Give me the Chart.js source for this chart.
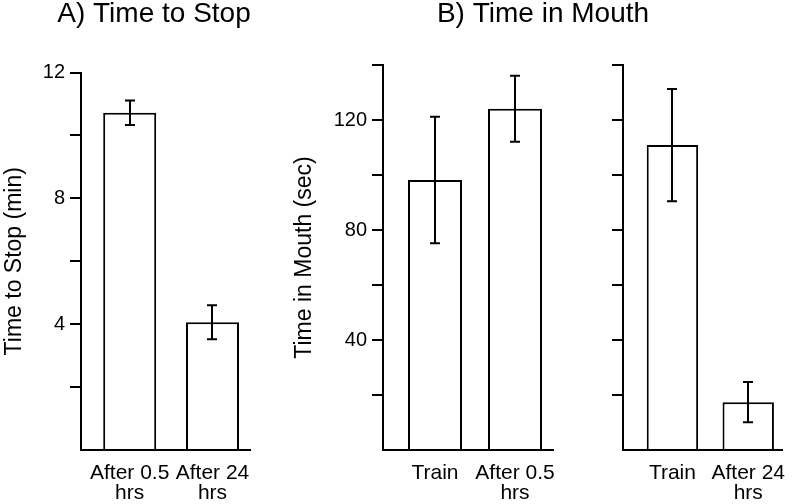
<!DOCTYPE html>
<html><head><meta charset="utf-8">
<script src="https://cdn.jsdelivr.net/npm/chart.js@4.4.1/dist/chart.umd.min.js"></script>
<style>
html,body{margin:0;padding:0;background:#fff;width:800px;height:504px;overflow:hidden;}
canvas{position:absolute;top:0;}
</style></head><body>
<canvas id="cA" width="308" height="504" style="left:0px"></canvas>
<canvas id="cB1" width="506" height="504" style="left:290px"></canvas>
<canvas id="cB2" width="240" height="504" style="left:560px"></canvas>
<script>
// ---- Panel A: Time to Stop ----
const categoriesA = [['After 0.5', 'hrs'], ['After 24', 'hrs']];
const timeToStop = [10.72, 4.06];
const timeToStopErr = [0.39, 0.54];
const yTickLabelsA = [4, 8, 12];

// ---- Panel B (left): Time in Mouth, Train vs After 0.5 hrs ----
const categoriesB1 = ['Train', ['After 0.5', 'hrs']];
const mouthB1 = [98.2, 124.1];
const mouthB1Err = [23, 12];
const yTickLabelsB1 = [40, 80, 120];

// ---- Panel B (right): Time in Mouth, Train vs After 24 hrs ----
const categoriesB2 = ['Train', ['After 24', 'hrs']];
const mouthB2 = [110.9, 17.4];
const mouthB2Err = [20.4, 7.3];
const yTickLabelsB2 = [];

Chart.defaults.font.family = "'Liberation Sans', Arial, sans-serif";
Chart.defaults.color = '#000';

const errorBars = {
  id: 'errorBars',
  afterDatasetsDraw(chart, args, opts) {
    const errs = opts.errors;
    if (!errs) return;
    const meta = chart.getDatasetMeta(0);
    const ys = chart.scales.y;
    const ctx = chart.ctx;
    ctx.save();
    ctx.strokeStyle = '#000';
    ctx.lineWidth = 2;
    meta.data.forEach((bar, i) => {
      const v = chart.data.datasets[0].data[i].y;
      const top = ys.getPixelForValue(v + errs[i]);
      const bot = ys.getPixelForValue(v - errs[i]);
      const x = Math.round(bar.x), hw = 5;
      ctx.beginPath();
      ctx.moveTo(x, top); ctx.lineTo(x, bot);
      ctx.moveTo(x - hw, top); ctx.lineTo(x + hw, top);
      ctx.moveTo(x - hw, bot); ctx.lineTo(x + hw, bot);
      ctx.stroke();
    });
    ctx.restore();
  }
};

function makeChart(id, c) {
  return new Chart(document.getElementById(id), {
    type: 'bar',
    data: {
      datasets: [{
        data: c.vals.map((v, i) => ({ x: i, y: v })),
        backgroundColor: '#fff',
        borderColor: '#000',
        borderWidth: 2,
        borderSkipped: 'start',
        barPercentage: c.barPct,
        categoryPercentage: 1
      }]
    },
    options: {
      responsive: false,
      animation: false,
      devicePixelRatio: 1,
      layout: { padding: { left: 0, right: 0, top: c.padTop, bottom: 0 } },
      plugins: {
        legend: { display: false },
        tooltip: { enabled: false },
        title: c.title ? {
          display: true, text: c.title, color: '#000',
          font: { size: 28, weight: 'normal', lineHeight: 1 },
          padding: { top: 0, bottom: c.titlePadBottom }
        } : { display: false },
        errorBars: { errors: c.errs }
      },
      scales: {
        x: {
          type: 'linear', min: c.xMin, max: c.xMax, offset: false, bounds: 'data',
          grid: { display: false, drawTicks: false },
          border: { display: true, color: '#000', width: 2 },
          afterBuildTicks: s => { s.ticks = c.cats.map((_, i) => ({ value: i })); },
          afterFit: s => { s.height = 54; },
          ticks: {
            autoSkip: false, maxRotation: 0, minRotation: 0, padding: 13, color: '#000',
            font: { size: 21, lineHeight: 0.952 },
            callback: v => c.cats[Math.round(v)]
          }
        },
        y: {
          min: 0, max: c.yMax,
          ticks: {
            stepSize: c.yStep, color: '#000', padding: 5, font: { size: 20 },
            callback: v => c.yLabels.includes(v) ? String(v) : ''
          },
          grid: {
            display: true, drawOnChartArea: false, drawTicks: true, tickLength: 11,
            lineWidth: 2, color: '#000', tickWidth: 2,
            tickColor: ctx => (ctx.tick && ctx.tick.value === 0) ? 'rgba(0,0,0,0)' : '#000'
          },
          border: { display: true, color: '#000', width: 2 },
          title: c.yTitle ? {
            display: true, text: c.yTitle, color: '#000',
            font: { size: 23, lineHeight: 1.2 }, padding: { top: 1, bottom: 0 }
          } : { display: false },
          afterFit: s => { s.width = c.yWidth; }
        },
        spacer: {
          type: 'linear', position: 'right', display: true,
          grid: { display: false, drawTicks: false },
          border: { display: false },
          ticks: { display: false },
          afterFit: s => { s.width = c.rightWidth; }
        }
      }
    },
    plugins: [errorBars]
  });
}

makeChart('cA', {
  cats: categoriesA, vals: timeToStop, errs: timeToStopErr,
  yMax: 12, yStep: 2, yLabels: yTickLabelsA, yTitle: 'Time to Stop (min)',
  title: 'A) Time to Stop', titlePadBottom: 44.5, padTop: 0, rightWidth: 58,
  yWidth: 81, xMin: -0.588, xMax: 1.453, barPct: 0.64
});

makeChart('cB1', {
  cats: categoriesB1, vals: mouthB1, errs: mouthB1Err,
  yMax: 140, yStep: 20, yLabels: yTickLabelsB1, yTitle: 'Time in Mouth (sec)',
  title: 'B) Time in Mouth', titlePadBottom: 37, padTop: 0, rightWidth: 243,
  yWidth: 93, xMin: -0.65, xMax: 1.475, barPct: 0.675
});

makeChart('cB2', {
  cats: categoriesB2, vals: mouthB2, errs: mouthB2Err,
  yMax: 140, yStep: 20, yLabels: yTickLabelsB2, yTitle: null,
  title: null, titlePadBottom: 0, padTop: 65, rightWidth: 9.3,
  yWidth: 63, xMin: -0.652, xMax: 1.452, barPct: 0.678
});
</script>
</body></html>
